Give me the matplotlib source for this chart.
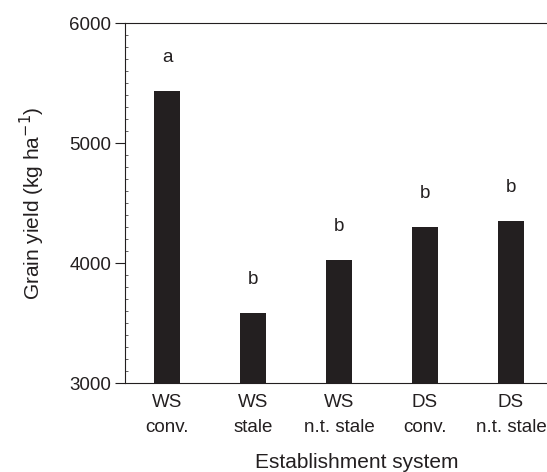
import matplotlib
matplotlib.use("Agg")
import matplotlib.pyplot as plt
from matplotlib.ticker import MultipleLocator

plt.rcParams['font.family'] = ['Liberation Sans', 'DejaVu Sans']

categories = ["WS\nconv.", "WS\nstale", "WS\nn.t. stale", "DS\nconv.", "DS\nn.t. stale"]
yields = [5430, 3580, 4025, 4300, 4350]
letters = ["a", "b", "b", "b", "b"]

fig = plt.figure(figsize=(5.47, 4.72), dpi=100)
ax = fig.add_axes([125/547, 1 - 383/472, (547-125)/547, (383-23)/472])

x = range(len(categories))
ax.bar(x, yields, width=0.31, color="#231f20", bottom=0)
for xi, v, l in zip(x, yields, letters):
    ax.text(xi, v + 210, l, ha="center", va="bottom", fontsize=13.5, color="#231f20")

ax.set_ylim(3000, 6000)
ax.set_xlim(-0.49, 4.42)
ax.yaxis.set_major_locator(MultipleLocator(1000))
ax.yaxis.set_minor_locator(MultipleLocator(100))
ax.tick_params(axis="y", which="major", direction="out", length=7, width=0.8, labelsize=13.5, colors="#231f20", pad=3)
ax.tick_params(axis="y", which="minor", direction="in", length=2, width=0.5, colors="#231f20")
ax.set_xticks(list(x))
ax.set_xticklabels(categories, fontsize=13.5, color="#231f20", linespacing=1.6)
ax.tick_params(axis="x", length=0, pad=8)
ax.spines["right"].set_visible(False)
for s in ["left", "top", "bottom"]:
    ax.spines[s].set_linewidth(0.8)
    ax.spines[s].set_color("#231f20")

ax.set_ylabel("Grain yield (kg ha$^{-1}$)", fontsize=15, color="#231f20", labelpad=16)
fig.text(357/547, 1 - 462/472, "Establishment system", fontsize=15, color="#231f20",
         ha="center", va="center")

fig.savefig("out.png", dpi=100)
